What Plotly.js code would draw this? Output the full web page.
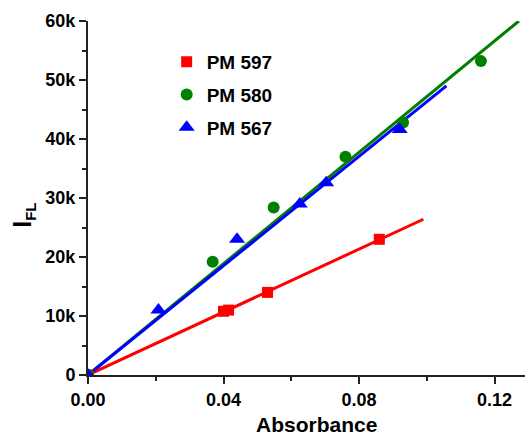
<!DOCTYPE html>
<html>
<head>
<meta charset="utf-8">
<script src="https://cdn.plot.ly/plotly-3.0.1.min.js"></script>
<style>html,body{margin:0;padding:0;background:#fff;}#chart{width:525px;height:440px;}</style>
</head>
<body>
<div id="chart"></div>
<script>
// Data points
var pm597_x = [0, 0.040, 0.0415, 0.053, 0.086];
var pm597_y = [0, 10800, 11000, 14000, 23000];
var pm580_x = [0, 0.0368, 0.0548, 0.0760, 0.0930, 0.1160];
var pm580_y = [0, 19200, 28400, 37000, 42800, 53200];
var pm567_x = [0, 0.0208, 0.0440, 0.0625, 0.0703, 0.0920];
var pm567_y = [0, 11000, 23000, 29000, 32600, 41600];
// Linear-fit lines (through origin)
var fit597_x = [0, 0.099];
var fit597_y = [0, 26400];
var fit580_x = [0, 0.1272];
var fit580_y = [0, 60000];
var fit567_x = [0, 0.1058];
var fit567_y = [0, 49000];
// Tick labels and titles
var yTickVals = [0, 10000, 20000, 30000, 40000, 50000, 60000];
var yTickText = ['0', '10k', '20k', '30k', '40k', '50k', '60k'];
var xTickVals = [0, 0.04, 0.08, 0.12];
var xTickText = ['0.00', '0.04', '0.08', '0.12'];
var xTitle = 'Absorbance';
var yTitle = 'I<sub><span style="font-size:15px">FL</span></sub>';

var FONT = 'Arial, "Liberation Sans", sans-serif';
var RED = '#ff0000', GREEN = '#008000', BLUE = '#0000ff';
var AX = '#222';

var traces = [
  {x: fit597_x, y: fit597_y, mode: 'lines', line: {color: RED, width: 3}, showlegend: false, hoverinfo: 'skip'},
  {x: fit580_x, y: fit580_y, mode: 'lines', line: {color: GREEN, width: 3}, showlegend: false, hoverinfo: 'skip'},
  {x: fit567_x, y: fit567_y, mode: 'lines', line: {color: BLUE, width: 3}, showlegend: false, hoverinfo: 'skip'},
  {x: pm597_x, y: pm597_y, mode: 'markers', name: 'PM 597', legendgroup: 'a',
   marker: {symbol: 'square', size: 11, color: RED}},
  {x: pm580_x, y: pm580_y, mode: 'markers', name: 'PM 580', legendgroup: 'b',
   marker: {symbol: 'circle', size: 12, color: GREEN}},
  {x: pm567_x, y: pm567_y, mode: 'markers', name: 'PM 567', legendgroup: 'c',
   marker: {symbol: 'triangle-up', size: 14, color: BLUE}}
];

var layout = {
  width: 525, height: 440,
  margin: {l: 88, r: 0, t: 21, b: 65},
  paper_bgcolor: '#fff', plot_bgcolor: '#fff',
  font: {family: FONT, color: '#000'},
  showlegend: true,
  legend: {
    x: 0.18, y: 0.938, xanchor: 'left', yanchor: 'top',
    font: {family: FONT, size: 19, color: '#000', weight: 'bold'},
    bgcolor: 'rgba(0,0,0,0)', tracegroupgap: 5, traceorder: 'grouped'
  },
  xaxis: {
    range: [0, 0.129], showgrid: false, zeroline: false,
    showline: true, linecolor: AX, linewidth: 2,
    ticks: 'outside', ticklen: 7, tickwidth: 2, tickcolor: AX,
    tickvals: xTickVals, ticktext: xTickText,
    tickfont: {family: FONT, size: 18, weight: 'bold'},
    minor: {dtick: 0.02, tick0: 0, ticks: 'outside', ticklen: 4, tickwidth: 2, tickcolor: AX, showgrid: false}
  },
  yaxis: {
    range: [0, 60000], showgrid: false, zeroline: false,
    showline: true, linecolor: AX, linewidth: 2,
    ticks: 'outside', ticklen: 7, tickwidth: 2, tickcolor: AX,
    tickvals: yTickVals, ticktext: yTickText,
    tickfont: {family: FONT, size: 18, weight: 'bold'},
    minor: {dtick: 5000, tick0: 0, ticks: 'outside', ticklen: 4, tickwidth: 2, tickcolor: AX, showgrid: false}
  },
  annotations: [
    {text: xTitle, xref: 'paper', yref: 'paper', x: 0.522, y: -0.141,
     xanchor: 'center', yanchor: 'middle', showarrow: false,
     font: {family: FONT, size: 21, weight: 'bold', color: '#000'}},
    {text: yTitle, xref: 'paper', yref: 'paper', x: -0.147, y: 0.452, textangle: -90,
     xanchor: 'center', yanchor: 'middle', showarrow: false,
     font: {family: FONT, size: 25, weight: 'bold', color: '#000'}}
  ]
};

Plotly.newPlot('chart', traces, layout, {staticPlot: true, displayModeBar: false});
</script>
</body>
</html>
